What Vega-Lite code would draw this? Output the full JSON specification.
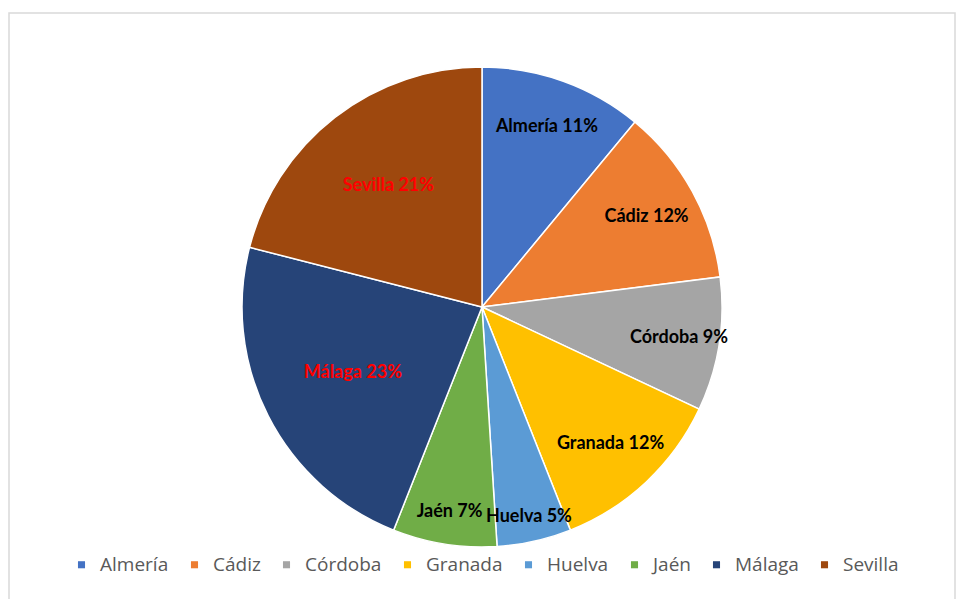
{
  "$schema": "https://vega.github.io/schema/vega-lite/v6.json",
  "autosize": {"type": "fit", "contains": "padding"},
  "width": 956,
  "height": 599,
  "padding": {"left": 8, "top": 12, "right": 0, "bottom": -3},
  "background": "white",
  "config": {"view": {"stroke": null}},
  "data": {"values": [
    {"region": "Almería", "pct": 11},
    {"region": "Cádiz", "pct": 12},
    {"region": "Córdoba", "pct": 9},
    {"region": "Granada", "pct": 12},
    {"region": "Huelva", "pct": 5},
    {"region": "Jaén", "pct": 7},
    {"region": "Málaga", "pct": 23},
    {"region": "Sevilla", "pct": 21}
  ]},
  "layer": [
    {
      "data": {"values": [{}]},
      "mark": {"type": "rect", "fill": null, "stroke": "#D9D9D9", "strokeWidth": 1.5},
      "encoding": {}
    },
    {
      "mark": {"type": "arc", "outerRadius": 240, "stroke": "white", "strokeWidth": 1.5},
      "encoding": {
        "theta": {"field": "pct", "type": "quantitative", "stack": true},
        "color": {
          "field": "region", "type": "nominal",
          "scale": {
            "domain": ["Almería", "Cádiz", "Córdoba", "Granada", "Huelva", "Jaén", "Málaga", "Sevilla"],
            "range": ["#4472C4", "#ED7D31", "#A5A5A5", "#FFC000", "#5B9BD5", "#70AD47", "#264478", "#9E480E"]
          },
          "legend": {
            "title": null,
            "orient": "none",
            "direction": "horizontal",
            "columns": 8,
            "legendX": 63,
            "legendY": 542,
            "symbolType": "square",
            "symbolSize": 50,
            "symbolStrokeWidth": 0,
            "labelFont": "Open Sans",
            "labelFontSize": 19,
            "labelColor": "#595959",
            "columnPadding": 16,
            "labelOffset": 9
          }
        }
      }
    },
    {
      "mark": {"type": "text", "font": "Lato", "fontWeight": "bold", "fontSize": 18},
      "transform": [
        {"calculate": "datum.region + ' ' + datum.pct + '%'", "as": "label"}
      ],
      "encoding": {
        "theta": {"field": "pct", "type": "quantitative", "stack": true},
        "radius": {
          "field": "pct", "type": "quantitative",
          "scale": {"type": "linear", "zero": false, "domain": [5, 23], "range": [215, 145]}
        },
        "detail": {"field": "region", "type": "nominal"},
        "text": {"field": "label", "type": "nominal"},
        "color": {
          "condition": {"test": "datum.region === 'Málaga' || datum.region === 'Sevilla'", "value": "#FF0000"},
          "value": "#000000"
        }
      }
    }
  ]
}
